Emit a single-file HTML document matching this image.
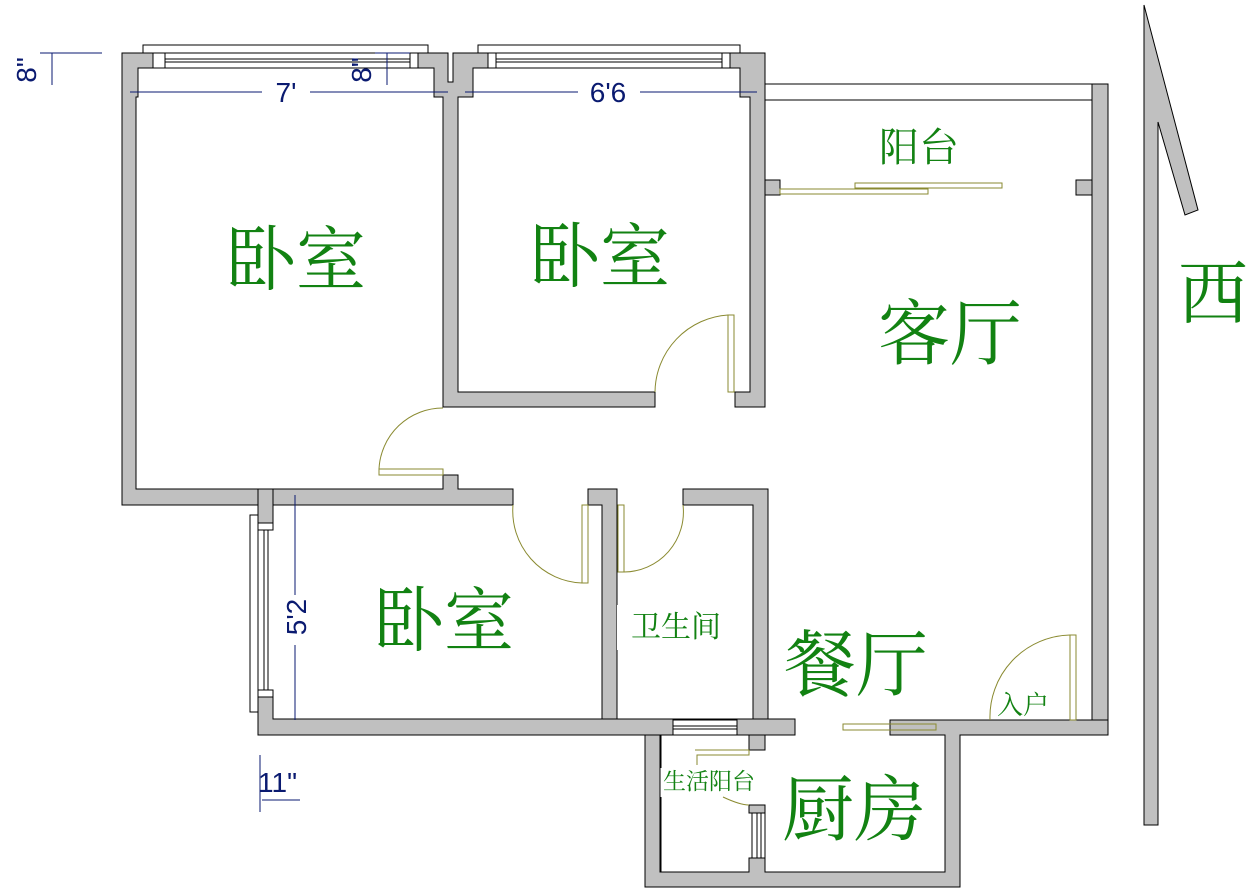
<!DOCTYPE html>
<html><head><meta charset="utf-8"><style>
html,body{margin:0;padding:0;background:#fff}
svg{display:block}
.w{fill:#c0c0c0;stroke:#000;stroke-width:1}
.d{fill:none;stroke:#8a8a30;stroke-width:1}
.t{font-family:"Liberation Serif","Noto Serif CJK SC",serif;fill:#128212}
.m{font-family:"Liberation Sans",sans-serif;fill:#0a1a70}
</style></head><body>
<svg width="1248" height="894" viewBox="0 0 1248 894" xmlns="http://www.w3.org/2000/svg">
<rect x="143" y="45" width="285" height="8" fill="#fff" stroke="#000"/>
<rect x="153" y="53" width="12" height="15" fill="#fff" stroke="#000"/>
<rect x="410" y="53" width="8" height="15" fill="#fff" stroke="#000"/>
<line x1="165" y1="59" x2="410" y2="59" stroke="#000"/><line x1="165" y1="62" x2="410" y2="62" stroke="#000"/><line x1="165" y1="68" x2="410" y2="68" stroke="#000"/>
<rect x="478" y="45" width="262" height="8" fill="#fff" stroke="#000"/>
<rect x="488" y="53" width="8" height="15" fill="#fff" stroke="#000"/>
<rect x="722" y="53" width="8" height="15" fill="#fff" stroke="#000"/>
<line x1="496" y1="59" x2="722" y2="59" stroke="#000"/><line x1="496" y1="62" x2="722" y2="62" stroke="#000"/><line x1="496" y1="68" x2="722" y2="68" stroke="#000"/>
<path class="w" d="M122,53 H153 V68 H138 V97 H136 V489 H443 V475 H458 V489 H513 V505 H273 V489 H258 V505 H122 Z"/>
<path class="w" d="M418,53 H448 V82 H453 V53 H488 V68 H473 V97 H458 V392 H655 V407 H443 V97 H434 V68 H418 Z"/>
<path class="w" d="M730,53 H765 V407 H735 V392 H750 V97 H740 V68 H730 Z"/>
<rect x="765" y="84" width="327" height="16" fill="#fff" stroke="#000"/>
<rect class="w" x="1092" y="84" width="16" height="651"/>
<rect class="w" x="765" y="180" width="15" height="15"/>
<rect class="w" x="1076" y="180" width="16" height="15"/>
<rect x="250" y="515" width="8" height="197" fill="#fff" stroke="#000"/>
<line x1="264" y1="530" x2="264" y2="697" stroke="#000"/><line x1="268" y1="530" x2="268" y2="697" stroke="#000"/>
<path class="w" d="M258,489 H273 V523 H258 Z"/>
<path class="w" d="M258,697 H273 V719 H795 V735 H258 Z"/>
<rect x="258" y="523" width="15" height="7" fill="#fff" stroke="#000"/>
<rect x="258" y="690" width="15" height="7" fill="#fff" stroke="#000"/>
<path class="w" d="M588,489 H617 V505 H617 V719 H602 V505 H588 Z"/>
<path class="w" d="M683,489 H768 V719 H753 V505 H683 Z"/>
<rect x="673" y="720" width="64" height="15" fill="#fff" stroke="#000"/>
<line x1="673" y1="726" x2="737" y2="726" stroke="#000"/><line x1="673" y1="729" x2="737" y2="729" stroke="#000"/>
<path class="w" d="M890,720 H1108 V735 H960 V887 H645 V735 H660 V872 H749 V858 H765 V872 H945 V735 H890 Z"/>
<rect class="w" x="749" y="735" width="16" height="15"/>
<rect class="w" x="749" y="805" width="16" height="8"/>
<rect x="752" y="813" width="13" height="45" fill="#fff" stroke="#000"/>
<line x1="757" y1="813" x2="757" y2="858" stroke="#000"/><line x1="761" y1="813" x2="761" y2="858" stroke="#000"/>
<line x1="661" y1="735" x2="661" y2="768" stroke="#000"/><line x1="661" y1="797" x2="661" y2="872" stroke="#000"/>
<rect class="d" x="379" y="469" width="64" height="6"/>
<path class="d" d="M379,469 A64,64 0 0 1 443,408"/>
<rect class="d" x="728" y="315" width="6" height="77"/>
<path class="d" d="M655,392 A78,78 0 0 1 728,315"/>
<rect class="d" x="582" y="505" width="6" height="78"/>
<path class="d" d="M513,505 A72,72 0 0 0 582,583"/>
<rect class="d" x="618" y="505" width="6" height="67"/>
<path class="d" d="M683,505 A60,60 0 0 1 624,572"/>
<rect class="d" x="1070" y="635" width="6" height="85"/>
<path class="d" d="M990,720 A82,82 0 0 1 1070,635"/>
<rect class="d" x="780" y="189" width="148" height="5"/>
<rect class="d" x="855" y="183" width="147" height="5"/>
<rect class="d" x="843" y="724" width="93" height="6"/>
<path class="d" d="M695,750 H749 V755 H697 V765"/>
<path class="d" d="M723,797 Q740,805 749,805"/>
<g stroke="#0a1a70" stroke-width="1">
<line x1="40" y1="53" x2="102" y2="53"/><line x1="52" y1="53" x2="52" y2="85"/>
<line x1="375" y1="53" x2="410" y2="53"/><line x1="387" y1="53" x2="387" y2="85"/>
<line x1="130" y1="92" x2="262" y2="92"/><line x1="310" y1="92" x2="448" y2="92"/>
<line x1="465" y1="92" x2="578" y2="92"/><line x1="640" y1="92" x2="757" y2="92"/>
<line x1="295" y1="495" x2="295" y2="595"/><line x1="295" y1="645" x2="295" y2="720"/>
<line x1="260" y1="755" x2="260" y2="812"/>
<line x1="262" y1="800" x2="300" y2="800"/>
</g>
<text class="m" x="0" y="0" font-size="28" text-anchor="middle" transform="translate(36 70) rotate(-90)">8"</text>
<text class="m" x="0" y="0" font-size="28" text-anchor="middle" transform="translate(371 70) rotate(-90)">8"</text>
<text class="m" x="286" y="102" font-size="28" text-anchor="middle">7'</text>
<text class="m" x="608" y="102" font-size="28" text-anchor="middle">6'6</text>
<text class="m" x="0" y="0" font-size="28" text-anchor="middle" transform="translate(306 617) rotate(-90)">5'2</text>
<text class="m" x="258" y="792" font-size="28">11"</text>
<path d="M1144,5 L1198,210 L1185,215 L1158,122 L1158,825 L1144,825 Z" fill="#c0c0c0" stroke="#000"/>
<text class="t" x="226" y="284" font-size="70">卧室</text>
<text class="t" x="530" y="281" font-size="70">卧室</text>
<text class="t" x="374" y="645" font-size="70">卧室</text>
<text class="t" x="879" y="161" font-size="40">阳台</text>
<text class="t" x="878" y="359" font-size="72">客厅</text>
<text class="t" x="784" y="690" font-size="72">餐厅</text>
<text class="t" x="782" y="835" font-size="72">厨房</text>
<text class="t" x="1178" y="318" font-size="70">西</text>
<rect x="617" y="605" width="120" height="45" fill="#fff"/>
<text class="t" x="631" y="637" font-size="30">卫生间</text>
<text class="t" x="997" y="714" font-size="26">入户</text>
<text class="t" x="663" y="789" font-size="23">生活阳台</text>
</svg>
</body></html>
